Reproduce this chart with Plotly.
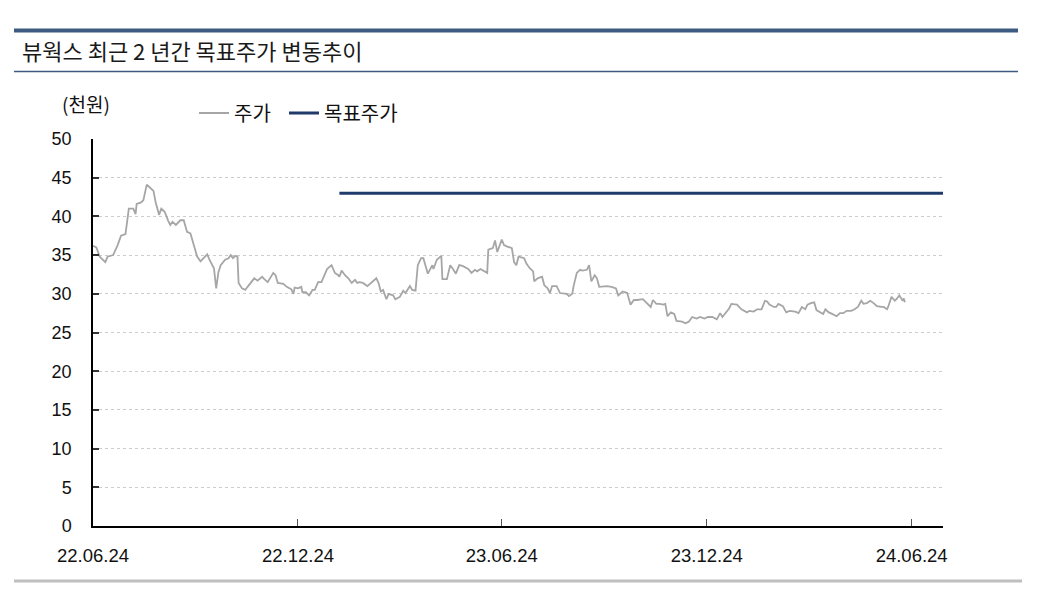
import plotly.graph_objects as go

# ---------------- data ----------------
price_dates = [
    "2022-06-24", "2022-06-27", "2022-06-30", "2022-07-03", "2022-07-05", "2022-07-07", "2022-07-12",
    "2022-07-16", "2022-07-19", "2022-07-23", "2022-07-26", "2022-07-30", "2022-08-01", "2022-08-02",
    "2022-08-06", "2022-08-08", "2022-08-11", "2022-08-14", "2022-08-17", "2022-08-19", "2022-08-22",
    "2022-08-24", "2022-08-27", "2022-08-30", "2022-09-01", "2022-09-03", "2022-09-06", "2022-09-10",
    "2022-09-13", "2022-09-16", "2022-09-19", "2022-09-22", "2022-09-25", "2022-09-28", "2022-10-02",
    "2022-10-04", "2022-10-06", "2022-10-07", "2022-10-10", "2022-10-12", "2022-10-14", "2022-10-16",
    "2022-10-20", "2022-10-23", "2022-10-25", "2022-10-27", "2022-10-29", "2022-10-31",
    "2022-11-01", "2022-11-04", "2022-11-07", "2022-11-09", "2022-11-15", "2022-11-18", "2022-11-22",
    "2022-11-24", "2022-11-27", "2022-12-02", "2022-12-04", "2022-12-06", "2022-12-11", "2022-12-14",
    "2022-12-18", "2022-12-20", "2022-12-21", "2022-12-24", "2022-12-27", "2022-12-28", "2022-12-31",
    "2023-01-03", "2023-01-06", "2023-01-08", "2023-01-11", "2023-01-14", "2023-01-19", "2023-01-23",
    "2023-01-26", "2023-01-29", "2023-01-30", "2023-02-01", "2023-02-04", "2023-02-07", "2023-02-10",
    "2023-02-13", "2023-02-15", "2023-02-17", "2023-02-20", "2023-02-24", "2023-02-28", "2023-03-04",
    "2023-03-06", "2023-03-08", "2023-03-10", "2023-03-13", "2023-03-15", "2023-03-19", "2023-03-21",
    "2023-03-25", "2023-03-28", "2023-03-30", "2023-04-03", "2023-04-05", "2023-04-08", "2023-04-10",
    "2023-04-13", "2023-04-15", "2023-04-19", "2023-04-23", "2023-04-24", "2023-04-27", "2023-05-01",
    "2023-05-02", "2023-05-06", "2023-05-09", "2023-05-11", "2023-05-14", "2023-05-17", "2023-05-20",
    "2023-05-25", "2023-05-28", "2023-05-31", "2023-06-02", "2023-06-05", "2023-06-08", "2023-06-11",
    "2023-06-12", "2023-06-16", "2023-06-18", "2023-06-20", "2023-06-24", "2023-06-26", "2023-06-29",
    "2023-07-03", "2023-07-05", "2023-07-07", "2023-07-09", "2023-07-14", "2023-07-16", "2023-07-19",
    "2023-07-22", "2023-07-23", "2023-07-26", "2023-07-30", "2023-08-01", "2023-08-04", "2023-08-06",
    "2023-08-08", "2023-08-12", "2023-08-15", "2023-08-21", "2023-08-23", "2023-08-26", "2023-08-27",
    "2023-08-30", "2023-09-02", "2023-09-04", "2023-09-08", "2023-09-10", "2023-09-12", "2023-09-15",
    "2023-09-17", "2023-09-19", "2023-09-26", "2023-09-30", "2023-10-04", "2023-10-06", "2023-10-10",
    "2023-10-14", "2023-10-17", "2023-10-20", "2023-10-23", "2023-10-28", "2023-10-31", "2023-11-04",
    "2023-11-06", "2023-11-09", "2023-11-12", "2023-11-15", "2023-11-17", "2023-11-19", "2023-11-22",
    "2023-11-25", "2023-11-27", "2023-12-02", "2023-12-05", "2023-12-08", "2023-12-11", "2023-12-15",
    "2023-12-18", "2023-12-22", "2023-12-25", "2023-12-29", "2024-01-02", "2024-01-05", "2024-01-07",
    "2024-01-11", "2024-01-13", "2024-01-15", "2024-01-20", "2024-01-24", "2024-01-29", "2024-01-31",
    "2024-02-04", "2024-02-07", "2024-02-11", "2024-02-14", "2024-02-16", "2024-02-18", "2024-02-22",
    "2024-02-24", "2024-02-26", "2024-03-01", "2024-03-04", "2024-03-07", "2024-03-12", "2024-03-15",
    "2024-03-18", "2024-03-21", "2024-03-23", "2024-03-26", "2024-03-29", "2024-03-31", "2024-04-03",
    "2024-04-06", "2024-04-08", "2024-04-11", "2024-04-14", "2024-04-18", "2024-04-21", "2024-04-24",
    "2024-04-27", "2024-05-01", "2024-05-04", "2024-05-07", "2024-05-10", "2024-05-12", "2024-05-15",
    "2024-05-18", "2024-05-21", "2024-05-24", "2024-05-28", "2024-05-30", "2024-06-02", "2024-06-03",
    "2024-06-06", "2024-06-09", "2024-06-11", "2024-06-13", "2024-06-16", "2024-06-17", "2024-06-18",
]

price_values = [
    36.2, 36.0, 34.8, 34.4, 34.1, 34.8, 35.0,
    36.3, 37.5, 37.7, 41.0, 41.0, 40.3, 41.6,
    41.8, 42.1, 44.1, 43.7, 43.3, 41.8, 40.2,
    41.0, 40.6, 39.5, 38.9, 39.3, 38.9, 39.5,
    39.5, 38.0, 37.8, 36.3, 34.8, 34.2, 34.8,
    35.1, 34.4, 34.1, 33.3, 30.7, 32.8, 33.7,
    34.4, 34.6, 35.0, 34.6, 34.9, 34.8,
    31.4, 30.7, 30.5, 30.9, 32.0, 31.7, 32.2,
    31.9, 31.5, 32.7, 32.4, 31.4, 31.3, 30.9,
    30.6, 30.0, 30.8, 30.7, 30.9, 30.2, 30.2,
    29.8, 30.5, 30.5, 31.5, 31.5, 33.2, 33.7,
    32.7, 32.4, 32.2, 33.0, 32.4, 32.0, 31.4,
    31.8, 31.4, 31.5, 31.4, 31.0, 31.5, 32.0,
    31.4, 30.3, 30.5, 29.3, 30.0, 29.8, 29.3,
    29.6, 30.4, 30.1, 31.0, 30.5, 30.4, 33.7,
    34.6, 34.6, 32.6, 33.7, 33.2, 34.4, 34.9,
    31.9, 31.9, 33.7, 33.3, 32.6, 33.7, 33.6,
    33.2, 32.7, 33.1, 32.9, 33.2, 32.9, 32.7,
    35.7, 35.9, 36.9, 35.4, 37.0, 36.3, 36.1,
    35.9, 34.1, 33.7, 34.8, 34.6, 33.9, 33.3,
    32.9, 31.6, 32.0, 32.2, 31.1, 30.7, 30.1,
    31.0, 31.0, 30.1, 30.0, 29.7, 30.0, 30.9,
    32.7, 33.1, 33.0, 33.1, 33.7, 31.6, 32.4,
    32.0, 30.9, 31.0, 30.9, 30.7, 29.8, 30.3,
    30.1, 28.6, 29.2, 29.2, 29.3, 28.9, 28.3,
    29.2, 28.7, 28.7, 28.6, 28.7, 27.1, 27.6,
    27.4, 26.5, 26.4, 26.2, 26.4, 27.0, 26.8,
    27.0, 26.8, 27.0, 27.0, 26.7, 27.5, 27.0,
    27.7, 28.1, 28.7, 28.6, 28.0, 27.6, 27.8,
    27.7, 28.0, 28.0, 29.1, 29.0, 28.6, 28.3,
    28.3, 28.7, 28.4, 27.6, 27.8, 27.7, 27.5,
    28.3, 28.0, 28.6, 28.8, 28.9, 27.9, 27.6,
    27.4, 28.0, 27.6, 27.4, 27.1, 27.5, 27.5,
    27.8, 27.8, 28.0, 28.3, 29.1, 28.7, 28.8,
    29.1, 28.8, 28.4, 28.3, 28.3, 28.0, 28.3,
    29.6, 29.1, 29.4, 29.8, 29.1, 29.4, 28.9,
]

target_dates = ["2023-01-30", "2024-07-22"]
target_values = [43, 43]

x_tick_dates = ["2022-06-24", "2022-12-24", "2023-06-24", "2023-12-24", "2024-06-24"]
x_tick_labels = ["22.06.24", "22.12.24", "23.06.24", "23.12.24", "24.06.24"]
y_ticks = [0, 5, 10, 15, 20, 25, 30, 35, 40, 45, 50]

series_names = ["주가", "목표주가"]
title_text = "뷰웍스 최근 2 년간 목표주가 변동추이"
unit_text = "(천원)"

# ---------------- figure ----------------
KR = "Noto Sans CJK KR, Noto Sans, sans-serif"
OFF = 8  # page body margin
W, H = 1039 - OFF, 601 - OFF
L, R, T, B = 93 - OFF, 96, 139 - OFF, 75
pw, ph = W - L - R, H - T - B


def px_x(p):
    return (p - OFF - L) / pw


def px_y(p):
    return (H - B - (p - OFF)) / ph


fig = go.Figure()
fig.add_trace(go.Scatter(
    x=price_dates, y=price_values, mode="lines", name=series_names[0],
    line=dict(color="#a6a6a6", width=1.8), legend="legend",
))
fig.add_trace(go.Scatter(
    x=target_dates, y=target_values, mode="lines", name=series_names[1],
    line=dict(color="#1f3b6b", width=3), legend="legend2",
))

legend_common = dict(
    orientation="h", yanchor="middle", xanchor="left",
    font=dict(family=KR, size=20, color="#111111"),
    bgcolor="rgba(0,0,0,0)", itemwidth=30,
)

fig.update_layout(
    width=W, height=H,
    margin=dict(l=L, r=R, t=T, b=B),
    paper_bgcolor="white", plot_bgcolor="white",
    font=dict(family=KR, size=16, color="#111111"),
    showlegend=True,
    legend=dict(x=px_x(194), y=px_y(113), **legend_common),
    legend2=dict(x=px_x(284), y=px_y(113), **legend_common),
    xaxis=dict(
        type="date",
        range=["2022-06-24", "2024-07-22"],
        tickmode="array", tickvals=x_tick_dates, ticktext=x_tick_labels,
        showgrid=False, zeroline=False,
        showline=True, linecolor="#000000", linewidth=1.5,
        ticks="inside", ticklen=7, tickcolor="#555555", tickwidth=1,
        tickfont=dict(family="Liberation Sans, Arial, sans-serif", size=18.5, color="#111111"),
        ticklabelstandoff=12,
        fixedrange=True,
    ),
    yaxis=dict(
        range=[0, 50],
        tickmode="array", tickvals=y_ticks,
        showgrid=True, gridcolor="#cccccc", griddash="dot", gridwidth=1,
        zeroline=False,
        showline=True, linecolor="#000000", linewidth=1.5,
        ticks="inside", ticklen=6, tickcolor="#333333", tickwidth=1.5,
        tickfont=dict(family="Liberation Sans, Arial, sans-serif", size=18, color="#111111"),
        ticklabelstandoff=16,
        fixedrange=True,
    ),
)

# decorative header/footer rules
fig.add_shape(type="line", xref="paper", yref="paper",
              x0=px_x(14), x1=px_x(1018), y0=px_y(30.5), y1=px_y(30.5),
              line=dict(color="#3d5a80", width=4))
fig.add_shape(type="line", xref="paper", yref="paper",
              x0=px_x(14), x1=px_x(1018), y0=px_y(71.5), y1=px_y(71.5),
              line=dict(color="#3d5a80", width=1.5))
fig.add_shape(type="line", xref="paper", yref="paper",
              x0=px_x(14), x1=px_x(1022), y0=px_y(581), y1=px_y(581),
              line=dict(color="#bfbfbf", width=3))

fig.add_annotation(text=title_text, xref="paper", yref="paper",
                   x=px_x(20), y=px_y(50), xanchor="left", yanchor="middle",
                   showarrow=False, font=dict(family=KR, size=22, color="#1a1a1a"))
fig.add_annotation(text=unit_text, xref="paper", yref="paper",
                   x=px_x(86), y=px_y(103), xanchor="center", yanchor="middle",
                   showarrow=False, font=dict(family=KR, size=19, color="#111111"))

fig.write_html("out.html")
